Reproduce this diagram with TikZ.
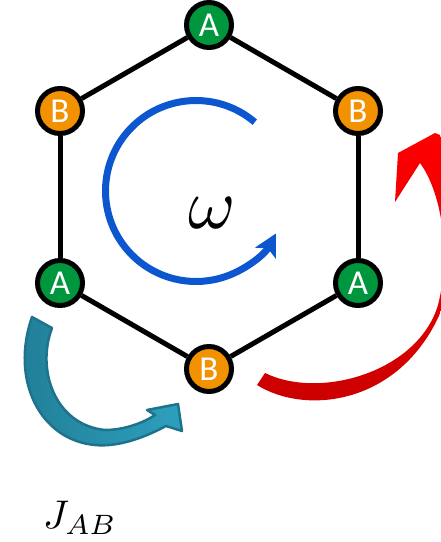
\documentclass[tikz,border=0pt]{standalone}
\usepackage{fontspec}
\newfontfamily\lblfont{Carlito}
\usetikzlibrary{arrows.meta}
\definecolor{agreen}{RGB}{0,150,62}
\definecolor{borange}{RGB}{243,146,0}
\definecolor{wblue}{RGB}{12,86,208}
\definecolor{tealleft}{RGB}{33,125,150}
\definecolor{tealright}{RGB}{45,160,190}
\definecolor{tealedge}{RGB}{30,115,140}
\definecolor{redtop}{RGB}{255,0,0}
\definecolor{redbot}{RGB}{200,0,0}
\begin{document}
\begin{tikzpicture}[x=1pt,y=-1pt,
  site/.style={circle, draw=black, line width=5pt, minimum size=45pt, inner sep=0pt,
    text=white, font=\lblfont\fontsize{35}{35}\selectfont},
  siteA/.style={site, fill=agreen},
  siteB/.style={site, fill=borange},
  bond/.style={line width=5pt, draw=black}]
\useasboundingbox (0,0) rectangle (441,542);
\clip (0,0) rectangle (441,542);

% sites
\node[siteA] (At) at (209,25) {A};
\node[siteB] (Btr) at (358,111) {B};
\node[siteA] (Ar) at (358,283) {A};
\node[siteB] (Bb) at (209,369) {B};
\node[siteA] (Al) at (60,283) {A};
\node[siteB] (Btl) at (60,111) {B};

% bonds
\draw[bond] (At) -- (Btr);
\draw[bond] (Btr) -- (Ar);
\draw[bond] (Ar) -- (Bb);
\draw[bond] (Bb) -- (Al);
\draw[bond] (Al) -- (Btl);
\draw[bond] (Btl) -- (At);

% rotation arrow
\draw[wblue, line width=7pt, -{Stealth[length=22pt,width=23pt,inset=5pt]}]
  (196,191) ++(-49.5:90.5) arc[start angle=-49.5, end angle=-332, radius=90.5];
\node[scale=7.2] (w) at (212,213) {$\omega$};

% teal hopping arrow
\shadedraw[left color=tealleft, right color=tealright, draw=tealedge, line width=2.5pt, line join=round]
  (32,317) -- (52,328)
  .. controls (36,370) and (55,425) .. (105,430)
  .. controls (125,430) and (145,422) .. (155,415)
  -- (147,410) -- (178,404) -- (182,431) -- (166,426)
  .. controls (140,440) and (115,447) .. (95,445)
  .. controls (40,440) and (10,380) .. (32,317)
  -- cycle;

% red hopping arrow
\shade[top color=redtop, bottom color=redbot]
  (257,385)
  .. controls (305,415) and (395,405) .. (437,320)
  .. controls (455,285) and (462,180) .. (440,135)
  -- (435,133) -- (398,153) -- (395,202) -- (420,163)
  .. controls (440,190) and (452,250) .. (438,305)
  .. controls (418,372) and (320,400) .. (265,373)
  -- cycle;

\node[scale=4] (J) at (80,518) {$J_{AB}$};
\end{tikzpicture}
\end{document}
